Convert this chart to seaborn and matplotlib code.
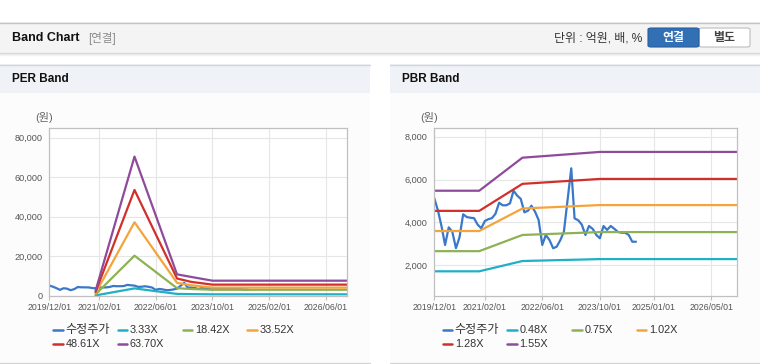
import matplotlib
matplotlib.use('Agg')
import matplotlib.pyplot as plt
import matplotlib.dates as mdates
from matplotlib.patches import Rectangle, FancyBboxPatch
from matplotlib.lines import Line2D
import pandas as pd
import seaborn as sns

# 수정주가 (월별, 2019/12 ~ 2024/08)
price = [5130, 4550, 3800, 2950, 3770, 3570, 2800, 3300, 4380, 4250, 4220, 4200,
         3900, 3730, 4070, 4150, 4200, 4400, 4920, 4800, 4800, 4890, 5480, 5250,
         5100, 4470, 4550, 4780, 4500, 4115, 2950, 3415, 3180, 2795, 2870, 3180,
         3570, 5050, 6525, 4190, 4100, 3900, 3415, 3835, 3700, 3415, 3260, 3835,
         3650, 3835, 3700, 3560, 3520, 3520, 3415, 3100, 3100]
price_dates = pd.date_range('2019-12-01', periods=len(price), freq='MS')

# PER band
per_dates = pd.to_datetime(['2021-01-01', '2021-12-01', '2022-12-01',
                            '2023-04-01', '2023-10-01', '2026-12-01'])
per_labels = ['3.33X', '18.42X', '33.52X', '48.61X', '63.70X']
per_333 = [150, 3700, 900, 800, 700, 700]
per_1842 = [700, 20250, 3800, 3400, 3000, 3000]
per_3352 = [1300, 37150, 6500, 5300, 4100, 4100]
per_4861 = [1900, 53500, 8700, 7000, 5600, 5600]
per_6370 = [2500, 70400, 10800, 9500, 7600, 7600]

# PBR band
pbr_dates = pd.to_datetime(['2019-12-01', '2020-12-15', '2021-12-15',
                            '2023-10-01', '2026-12-01'])
pbr_labels = ['0.48X', '0.75X', '1.02X', '1.28X', '1.55X']
pbr_048 = [1720, 1720, 2200, 2290, 2290]
pbr_075 = [2660, 2660, 3415, 3550, 3550]
pbr_102 = [3600, 3600, 4650, 4810, 4810]
pbr_128 = [4540, 4540, 5800, 6030, 6030]
pbr_155 = [5480, 5480, 7020, 7290, 7290]

colors = ['#3a78c9', '#1fb0c6', '#8db255', '#f4a43a', '#d1302a', '#8e4b9a']

per_ticks = ['2019-12-01', '2021-02-01', '2022-06-01', '2023-10-01', '2025-02-01', '2026-06-01']
pbr_ticks = ['2019-12-01', '2021-02-01', '2022-06-01', '2023-10-01', '2025-01-01', '2026-05-01']

sns.set_style('white')
plt.rcParams['font.family'] = ['Liberation Sans', 'Noto Sans CJK KR', 'DejaVu Sans']

W, H = 760, 364
fig = plt.figure(figsize=(W / 100, H / 100), dpi=100)
fig.patch.set_facecolor('white')


def fx(x):
    return x / W


def fy(y):
    return 1 - y / H


def rect(x0, y0, x1, y1, **kw):
    fig.add_artist(Rectangle((fx(x0), fy(y1)), fx(x1 - x0), (y1 - y0) / H,
                             transform=fig.transFigure, zorder=-10, **kw))


def hline(x0, x1, y, color, lw=1):
    fig.add_artist(Line2D([fx(x0), fx(x1)], [fy(y), fy(y)], color=color, lw=lw,
                          transform=fig.transFigure, zorder=-5))


# header
rect(0, 22, 760, 52.5, facecolor='#f4f4f4', edgecolor='none')
hline(0, 760, 22.5, '#c4c4c4')
hline(0, 760, 52.5, '#d6d6d6')
hline(0, 760, 53.5, '#e8e8e8')
hline(0, 760, 54.5, '#f3f3f3')
fig.text(fx(12), fy(38), 'Band Chart', fontsize=9, fontweight='bold', color='#111111', va='center')
fig.text(fx(88), fy(38.5), '[연결]', fontsize=8.3, color='#8a8a8a', va='center')
fig.text(fx(642), fy(38.5), '단위 : 억원, 배, %', fontsize=8.6, color='#333333', va='center', ha='right')
fig.add_artist(FancyBboxPatch((fx(699), fy(47)), fx(51), 19 / H,
                              boxstyle='round,pad=0,rounding_size=0.004',
                              transform=fig.transFigure, facecolor='#ffffff', edgecolor='#bdbdbd', lw=0.8))
fig.add_artist(FancyBboxPatch((fx(648), fy(47)), fx(51), 19 / H,
                              boxstyle='round,pad=0,rounding_size=0.004',
                              transform=fig.transFigure, facecolor='#3270b6', edgecolor='#2a5f9e', lw=0.8))
fig.text(fx(673.5), fy(38), '연결', fontsize=8.6, fontweight='bold', color='white', va='center', ha='center')
fig.text(fx(724.5), fy(38), '별도', fontsize=8.6, fontweight='bold', color='#444444', va='center', ha='center')

# panels
for x0, x1, title in [(0, 370, 'PER Band'), (390, 760, 'PBR Band')]:
    rect(x0, 64, x1, 362, facecolor='#fcfcfc', edgecolor='none')
    rect(x0, 64, x1, 92.7, facecolor='#eff2f7', edgecolor='none')
    hline(x0, x1, 64.5, '#d4d4d4')
    hline(x0, x1, 362.5, '#d4d4d4')
    fig.text(fx(x0 + 11.7), fy(79), title, fontsize=8.5, fontweight='bold', color='#111111', va='center')


def make_df(band_dates, bands, labels):
    frames = [pd.DataFrame({'date': price_dates, 'value': price, 'series': '수정주가'})]
    for vals, lab in zip(bands, labels):
        frames.append(pd.DataFrame({'date': band_dates, 'value': vals, 'series': lab}))
    return pd.concat(frames, ignore_index=True)


def draw(ax, df, order, yticks, ylim, xticks):
    ax.set_facecolor('white')
    sns.lineplot(data=df, x='date', y='value', hue='series', hue_order=order,
                 palette=colors, legend=False, ax=ax, linewidth=1.6,
                 estimator=None, sort=False)
    ax.set_xlim(pd.Timestamp('2019-12-01'), pd.Timestamp('2026-12-01'))
    ax.set_ylim(*ylim)
    ax.set_yticks(yticks)
    ax.yaxis.set_major_formatter(matplotlib.ticker.FuncFormatter(lambda v, p: f'{int(v):,}'))
    ax.set_xticks(pd.to_datetime(xticks))
    ax.xaxis.set_major_formatter(mdates.DateFormatter('%Y/%m/%d'))
    ax.set_xlabel('')
    ax.set_ylabel('')
    ax.grid(True, color='#e6e6e6', lw=0.8)
    ax.set_axisbelow(True)
    for s in ax.spines.values():
        s.set_color('#c0c0c0')
        s.set_linewidth(0.9)
    ax.tick_params(axis='x', length=3, width=0.8, color='#c0c0c0', pad=2.5,
                   labelsize=6.3, labelcolor='#555555', bottom=True)
    ax.tick_params(axis='y', length=0, pad=4.8, labelsize=6.6, labelcolor='#555555')


def legend(x0, labels):
    cols = [0, 64.5, 129.5, 194]
    for i, (lab, c) in enumerate(zip(labels, colors)):
        x = x0 + cols[i % 4]
        y = 330 if i < 4 else 343.5
        fig.add_artist(Line2D([fx(x), fx(x + 9.5)], [fy(y), fy(y)], color=c, lw=1.8,
                              transform=fig.transFigure))
        size = 8.7 if i == 0 else 7.8
        fig.text(fx(x + 12), fy(y + 0.3), lab, fontsize=size, color='#333333', va='center')


ax1 = fig.add_axes([fx(49.3), fy(295.7), fx(347.3 - 49.3), (295.7 - 128.3) / H])
per_order = ['수정주가'] + per_labels
draw(ax1, make_df(per_dates, [per_333, per_1842, per_3352, per_4861, per_6370], per_labels),
     per_order, [0, 20000, 40000, 60000, 80000], (0, 84700), per_ticks)
fig.text(fx(44), fy(118), '(원)', fontsize=8, color='#666666', va='center', ha='center')
legend(53.3, per_order)

ax2 = fig.add_axes([fx(434.3), fy(295.7), fx(736.7 - 434.3), (295.7 - 128.3) / H])
pbr_order = ['수정주가'] + pbr_labels
draw(ax2, make_df(pbr_dates, [pbr_048, pbr_075, pbr_102, pbr_128, pbr_155], pbr_labels),
     pbr_order, [2000, 4000, 6000, 8000], (582, 8392), pbr_ticks)
fig.text(fx(429), fy(118), '(원)', fontsize=8, color='#666666', va='center', ha='center')
legend(442.7, pbr_order)

fig.savefig('out.png', dpi=100)
